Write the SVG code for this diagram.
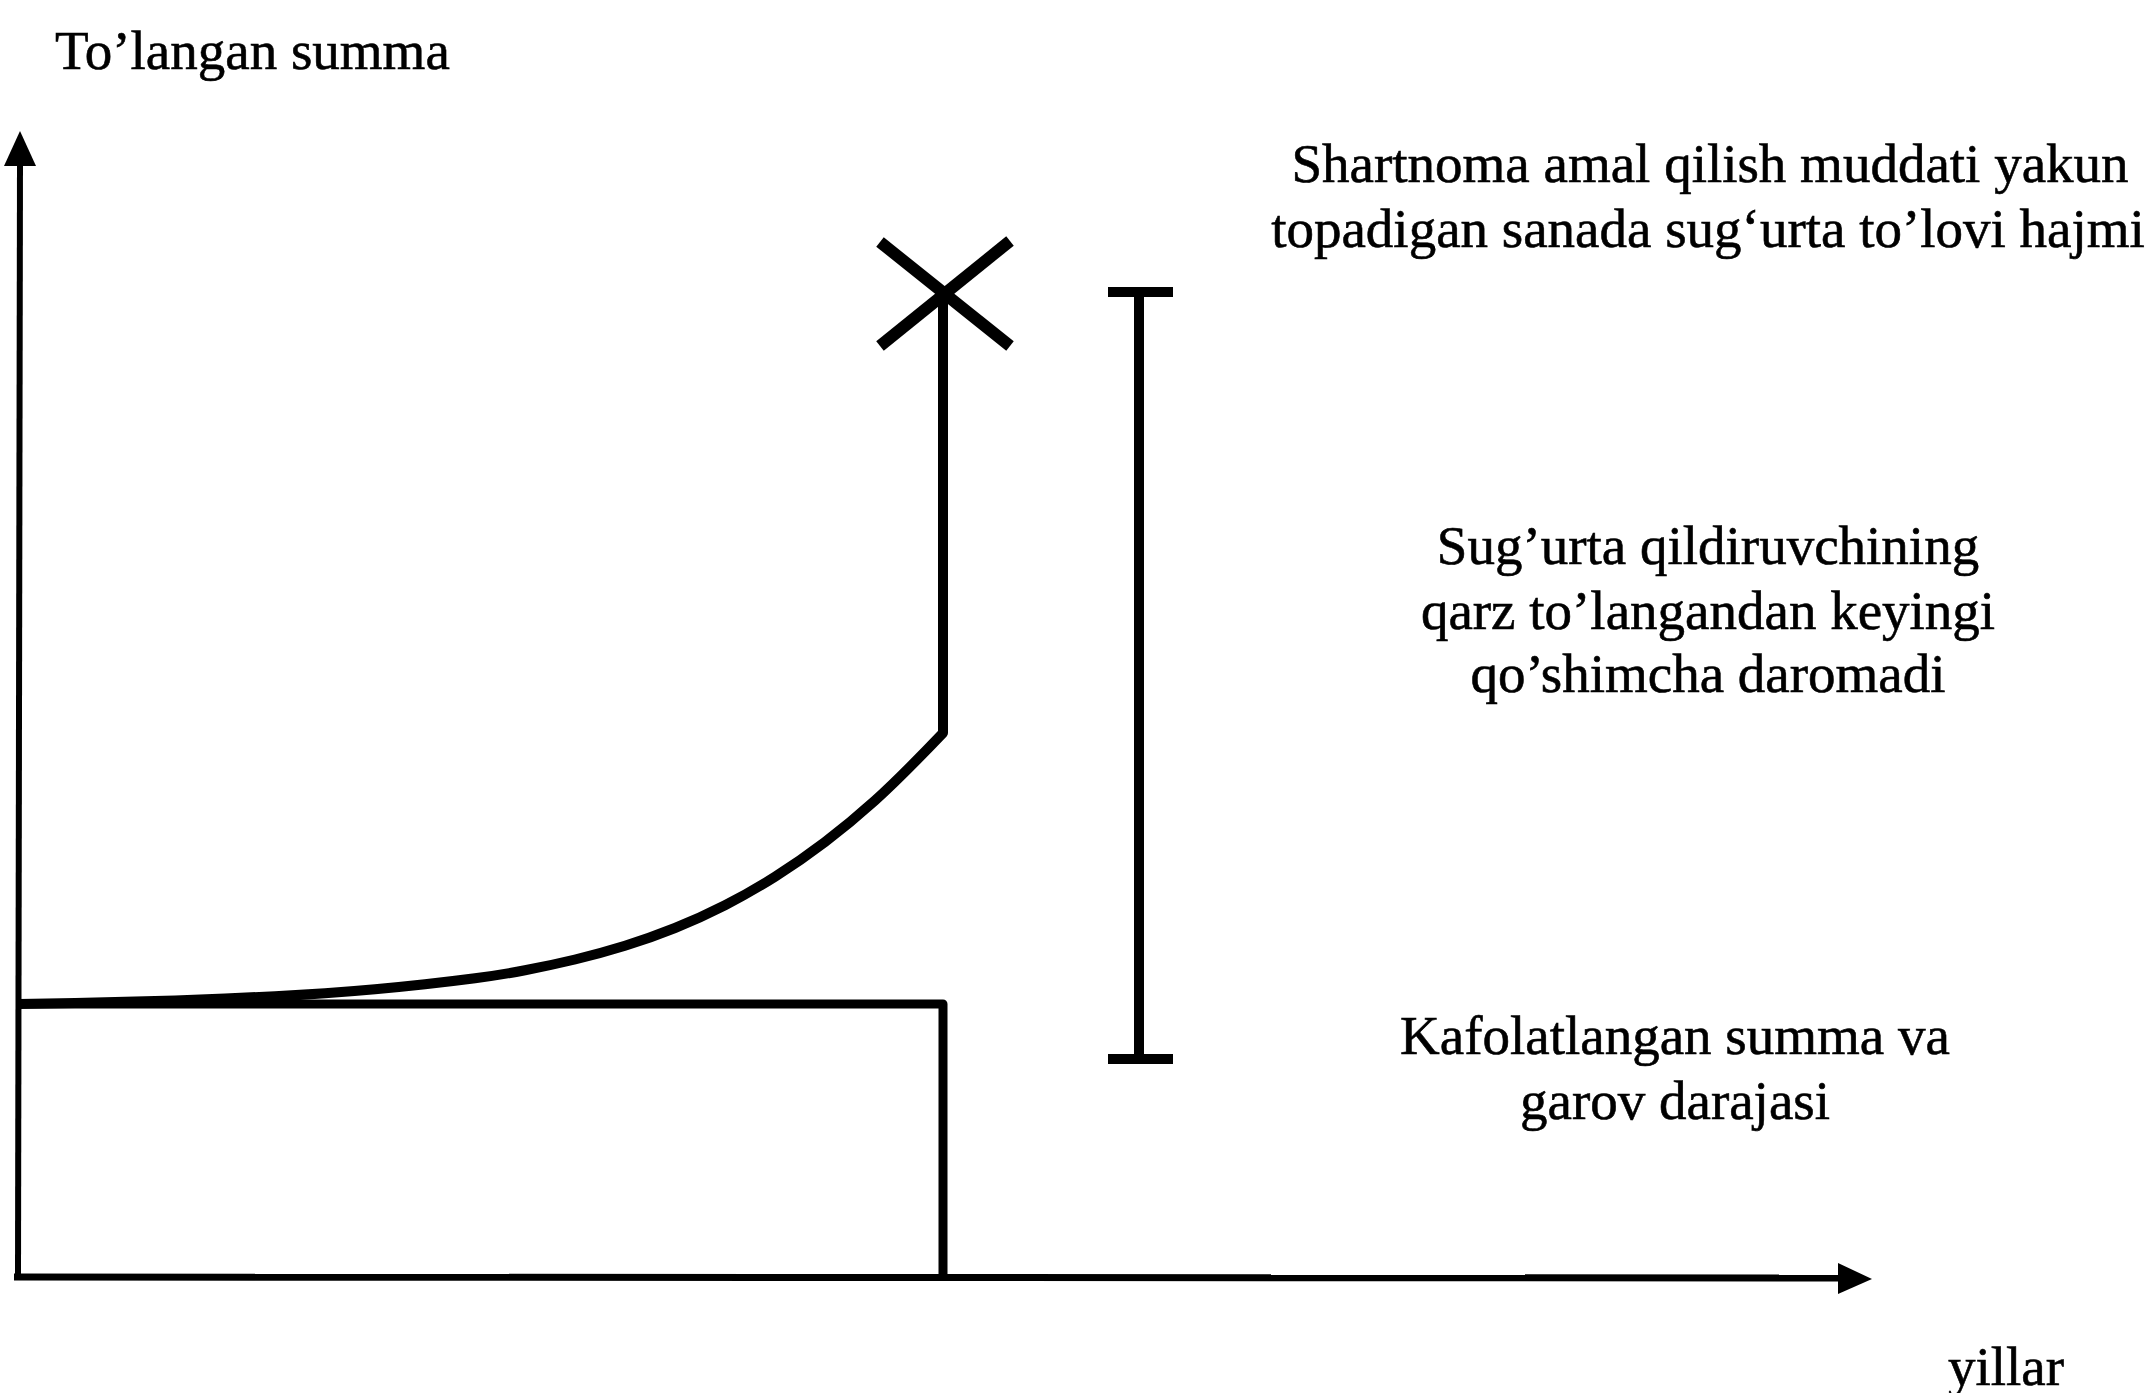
<svg xmlns="http://www.w3.org/2000/svg" width="2151" height="1393" viewBox="0 0 2151 1393">
<style>
.t{font-family:"Liberation Serif","Times New Roman",serif;font-size:55px;fill:#000;stroke:#000;stroke-width:0.6px;}
.c{text-anchor:middle;}
.ln{fill:none;stroke:#000;stroke-linecap:butt;stroke-linejoin:round;}
</style>
<rect width="2151" height="1393" fill="#fff"/>
<g id="connectors">
<line id="y-axis" class="ln" x1="18" y1="1280" x2="20" y2="160" stroke-width="6"/>
<polygon points="20,131 36,166 4,166" fill="#000"/>
<line id="x-axis" class="ln" x1="14" y1="1277" x2="1845" y2="1278" stroke-width="7"/>
<polygon points="1872,1279 1838,1263 1838,1294" fill="#000"/>
</g>
<g id="guaranteed-box">
<path class="ln" d="M16,1004 H943 V1277" stroke-width="9"/>
</g>
<g id="growth-curve">
<path class="ln" stroke-width="10" d="M19,1004 Q50,1003.5 75,1003 Q100,1002.5 125,1001.85 Q150,1001.2 175,1000.4 Q200,999.6 225,998.55 Q250,997.5 275,996.25 Q300,995 325,993.25 Q350,991.5 375,989.25 Q400,987 425,984.25 Q450,981.5 475,978.25 Q500,975 525,970.25 Q550,965.5 575,959.5 Q600,953.5 625,945.75 Q650,938 675,928 Q700,918 725,905.25 Q750,892.5 775,876.75 Q800,861 825,842 Q850,823 875,800.5 Q900,778 943,733 V293"/>
</g>
<g id="end-marker">
<line class="ln" x1="880" y1="242" x2="1010" y2="346" stroke-width="12" stroke-linecap="round"/>
<line class="ln" x1="1010" y1="241" x2="880" y2="346" stroke-width="12" stroke-linecap="round"/>
</g>
<g id="range-bar">
<line class="ln" x1="1139" y1="292" x2="1139" y2="1059" stroke-width="10"/>
<line class="ln" x1="1108" y1="292" x2="1173" y2="292" stroke-width="10"/>
<line class="ln" x1="1108" y1="1059" x2="1173" y2="1059" stroke-width="10"/>
</g>
<g id="label-y"><text class="t" x="55" y="69">To’langan summa</text></g>
<g id="label-total">
<text class="t c" x="1710" y="182">Shartnoma amal qilish muddati yakun</text>
<text class="t c" x="1708" y="247">topadigan sanada sug‘urta to’lovi hajmi</text>
</g>
<g id="label-income">
<text class="t c" x="1708" y="564">Sug’urta qildiruvchining</text>
<text class="t c" x="1708" y="629">qarz to’langandan keyingi</text>
<text class="t c" x="1708" y="692">qo’shimcha daromadi</text>
</g>
<g id="label-guaranteed">
<text class="t c" x="1675" y="1054">Kafolatlangan summa va</text>
<text class="t c" x="1675" y="1119">garov darajasi</text>
</g>
<g id="label-x"><text class="t" x="1948" y="1385">yillar</text></g>
</svg>
